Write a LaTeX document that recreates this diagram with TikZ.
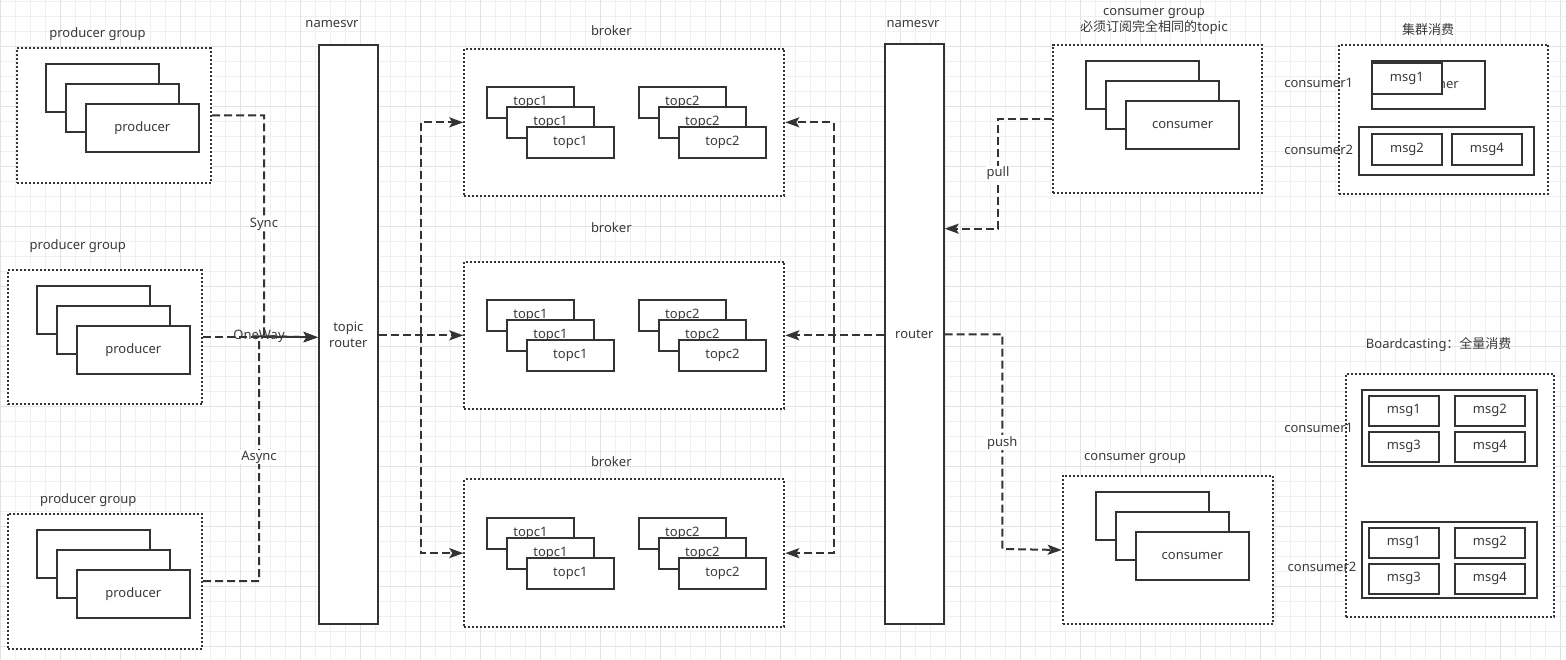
\documentclass[tikz,border=0pt]{standalone}
\usepackage{fontspec}
\setmainfont{Noto Sans}
\newfontfamily\cjk{Noto Sans CJK SC}
\usetikzlibrary{arrows.meta}
\definecolor{lc}{HTML}{333333}
\definecolor{tc}{HTML}{3A3A3A}
\definecolor{gmin}{HTML}{F0F0F0}
\definecolor{gmaj}{HTML}{E3E3E3}
\tikzset{
  sbox/.style={draw=lc, line width=2pt, fill=white, inner sep=0pt, align=center},
  gbox/.style={draw=lc, line width=2pt, dash pattern=on 2pt off 2pt, fill=white, inner sep=0pt},
  conn/.style={draw=lc, line width=2pt, dash pattern=on 8pt off 4pt},
  arr/.style={-{Stealth[length=14pt,width=10pt,inset=3pt]}},
  lbl/.style={inner sep=1pt, fill=white},
  txt/.style={inner sep=0pt, align=center}
}
\newcommand\bx[6]{\node[sbox, anchor=north west, minimum width={#4-(#2)}, minimum height={#5-(#3)}] (#1) at (#2,#3) {#6};}
\newcommand\gbx[5]{\node[gbox, anchor=north west, minimum width={#4-(#2)}, minimum height={#5-(#3)}] (#1) at (#2,#3) {};}
\newcommand\lw[1]{\raisebox{-1.2pt}{#1}}
\newcommand\tstack[2]{%
  \bx{#1aa}{485.7}{86+#2}{573.3}{117+#2}{\lw{topc1}}
  \bx{#1ab}{505.7}{106+#2}{593.3}{137+#2}{\lw{topc1}}
  \bx{#1ac}{525.7}{126+#2}{613}{157+#2}{\lw{topc1}}
  \bx{#1ba}{637.7}{86+#2}{725}{117+#2}{\lw{topc2}}
  \bx{#1bb}{657.7}{106+#2}{745}{137+#2}{\lw{topc2}}
  \bx{#1bc}{677.7}{126+#2}{765.3}{157+#2}{\lw{topc2}}
}
\newcommand\pstack[4]{% name, x0, y0, text
  \bx{#1a}{#2}{#3}{#2+113.3}{#3+48}{}
  \bx{#1b}{#2+20}{#3+20}{#2+133.3}{#3+68}{}
  \bx{#1c}{#2+40}{#3+40}{#2+153.3}{#3+88}{\lw{#4}}
}
\begin{document}
\begin{tikzpicture}[x=1pt,y=-1pt, font=\fontsize{13}{15.6}\selectfont, text=tc]
\useasboundingbox (0,0) rectangle (1566,660);
\fill[white] (0,0) rectangle (1566,660);
% grid
\foreach \i in {0,...,104} {\draw[gmin, line width=1pt] ({0.7+15*\i},0) -- ({0.7+15*\i},660);}
\foreach \i in {0,...,44} {\draw[gmin, line width=1pt] (0,{1.7+15*\i}) -- (1566,{1.7+15*\i});}
\foreach \i in {0,...,26} {\draw[gmaj, line width=1pt] ({0.7+60*\i},0) -- ({0.7+60*\i},660);}
\foreach \i in {0,...,10} {\draw[gmaj, line width=1pt] (0,{46.7+60*\i}) -- (1566,{46.7+60*\i});}

% producer groups
\gbx{g1}{16}{47.3}{210}{181.7}
\pstack{p1}{44.7}{62.7}{producer}
\node[txt] (lg1) at (97.5,34) {producer group};
\gbx{g2}{6.7}{269.3}{201}{403.3}
\pstack{p2}{35.7}{285}{producer}
\node[txt] (lg2) at (77.8,245.7) {producer group};
\gbx{g3}{6.7}{512.7}{201}{647.7}
\pstack{p3}{35.7}{528.7}{producer}
\node[txt] (lg3) at (88.3,500) {producer group};

% namesvr left / right
\bx{nsL}{317.7}{43.7}{377}{623.3}{topic\\router}
\node[txt] (lnsL) at (332,24) {namesvr};
\bx{nsR}{884}{43.3}{942.7}{623.3}{router}
\node[txt] (lnsR) at (913,24) {namesvr};

% brokers
\gbx{b1}{463.3}{47.7}{783.3}{195}
\tstack{b1t}{0}
\node[txt] (lb1) at (611.3,30.7) {broker};
\gbx{b2}{463.3}{260.7}{783.3}{408}
\tstack{b2t}{213}
\node[txt] (lb2) at (611.3,227.5) {broker};
\gbx{b3}{463.3}{478.3}{783.3}{626}
\tstack{b3t}{430.7}
\node[txt] (lb3) at (611.3,461.7) {broker};

% consumer groups
\gbx{cg1}{1052.3}{44}{1261}{192.3}
\pstack{c1}{1085}{60}{consumer}
\node[txt] (lcg1) at (1154,21.2) {consumer group\\{\cjk 必须订阅完全相同的topic}};
\gbx{cg2}{1061.7}{474.7}{1271.7}{623.3}
\pstack{c2}{1094.7}{490.7}{consumer}
\node[txt] (lcg2) at (1135,459) {consumer group};

% cluster consumption
\gbx{kb}{1337.7}{44}{1547.3}{192.7}
\node[txt] (lkb) at (1428,30) {\cjk 集群消费};
\bx{k1}{1370.7}{60}{1483.7}{107.7}{consumer}
\bx{k1m1}{1370.7}{62}{1441}{93}{msg1}
\bx{k2}{1357.7}{125.7}{1533}{174}{}
\bx{k2m2}{1370.7}{133.3}{1441.3}{164}{msg2}
\bx{k2m4}{1450.7}{133.3}{1521}{164}{msg4}
\node[txt] (lk1) at (1318.7,82.7) {consumer1};
\node[txt] (lk2) at (1318.7,150) {consumer2};

% broadcasting
\gbx{bb}{1345}{373.3}{1553.3}{616}
\node[txt] (lbb) at (1438.7,344.3) {Boardcasting{\cjk ：全量消费}};
\bx{q1}{1361}{389}{1536}{465}{}
\bx{q1m1}{1367.7}{395}{1438}{424.7}{msg1}
\bx{q1m2}{1453.7}{395}{1524}{424.7}{msg2}
\bx{q1m3}{1367.7}{431}{1438}{460.7}{msg3}
\bx{q1m4}{1453.7}{431}{1524}{460.7}{msg4}
\bx{q2}{1361}{521}{1536}{596.7}{}
\bx{q2m1}{1367.7}{526.7}{1438}{556.7}{msg1}
\bx{q2m2}{1453.7}{526.7}{1524}{556.7}{msg2}
\bx{q2m3}{1367.7}{563}{1438}{592.7}{msg3}
\bx{q2m4}{1453.7}{563}{1524}{592.7}{msg4}
\node[txt] (lq1) at (1318.7,428.3) {consumer1};
\node[txt] (lq2) at (1322,567.3) {consumer2};

% connectors producers -> namesvr
\coordinate (sy) at (264,336.3);
\coordinate (ay) at (259,336.3);
\draw[conn,arr] (g1.east) -| (sy) -- (nsL.west |- g2.east);
\draw[conn,arr] (g3.east) -| (ay) -- (nsL.west |- g2.east);
\draw[conn,arr] (g2.east) -- (nsL.west |- g2.east);
\node[lbl] (lsync) at (264,224) {Sync};
\node[inner sep=0pt] (lone) at (259,336) {OneWay};
\node[lbl] (lasync) at (259,457) {Async};

% namesvr left -> brokers
\coordinate (jl) at (420.7,334.8);
\draw[conn,arr] (nsL.east |- b2.west) -- (b2.west);
\draw[conn,arr] (jl) |- (b1.west);
\draw[conn,arr] (jl) |- (b3.west);

% namesvr right -> brokers
\coordinate (jr) at (834,334.8);
\draw[conn,arr] (nsR.west |- b2.east) -- (b2.east);
\draw[conn,arr] (jr) |- (b1.east);
\draw[conn,arr] (jr) |- (b3.east);

% pull / push
\coordinate (pb) at (998,228.7);
\draw[conn,arr] (cg1.west) -| (pb) -- (nsR.east |- pb);
\node[lbl] (lpull) at (998,173.3) {pull};
\coordinate (pc) at (1002.3,549);
\draw[conn,arr] (nsR.east) -| (pc) -- (cg2.west);
\node[lbl] (lpush) at (1002.3,442.7) {push};
\end{tikzpicture}
\end{document}
